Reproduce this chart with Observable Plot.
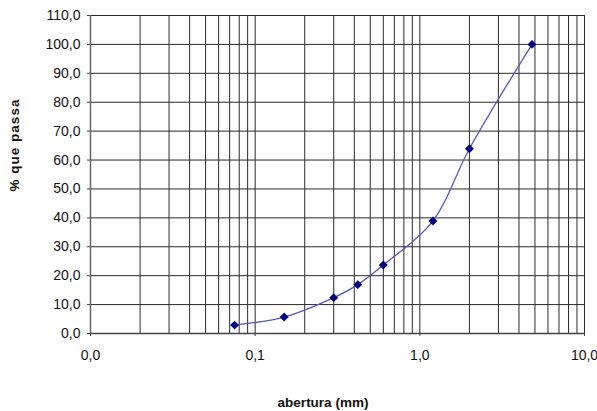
<!DOCTYPE html>
<html><head><meta charset="utf-8">
<script src="https://cdn.jsdelivr.net/npm/d3@7"></script>
<script src="https://cdn.jsdelivr.net/npm/@observablehq/plot@0.6"></script>
<style>body{margin:0;background:#fff}</style>
</head><body><div id="chart"></div>
<script>
const abertura = [0.075, 0.15, 0.3, 0.42, 0.6, 1.2, 2.0, 4.8];
const passa = [2.9, 5.7, 12.4, 16.9, 23.7, 38.9, 63.9, 100.0];
const xMajor = [0.01, 0.1, 1, 10];
const xGrid = [0.02,0.03,0.04,0.05,0.06,0.07,0.08,0.09,0.1,
               0.2,0.3,0.4,0.5,0.6,0.7,0.8,0.9,1,
               2,3,4,5,6,7,8,9,10];
const yTicks = [0,10,20,30,40,50,60,70,80,90,100,110];
const xTitle = "abertura (mm)";
const yTitle = "% que passa";

const data = abertura.map((a, i) => ({a, p: passa[i]}));
const fmt = d => d.toFixed(1).replace(".", ",");

const svg = Plot.plot({
  width: 597, height: 411,
  marginLeft: 90, marginRight: 13, marginTop: 15, marginBottom: 78,
  style: {fontFamily: "'Liberation Sans', Arial, sans-serif", fontSize: "14px", color: "#111", background: "#fff"},
  x: {type: "log", domain: [0.01, 10]},
  y: {domain: [0, 110]},
  marks: [
    Plot.ruleX(xGrid, {stroke: "#2a2a2a", strokeWidth: 1}),
    Plot.ruleY(yTicks, {stroke: "#2a2a2a", strokeWidth: 1}),
    Plot.axisX({ticks: xMajor, tickFormat: fmt, tickSize: 3, tickPadding: 14, label: null, stroke: "#444", fill: "#111", fontSize: 14}),
    Plot.axisY({ticks: yTicks, tickFormat: fmt, tickSize: 3, tickPadding: 7, label: null, stroke: "#444", fill: "#111", fontSize: 14}),
    Plot.ruleX([0.01], {stroke: "#666", strokeWidth: 1.5}),
    Plot.ruleY([0], {stroke: "#444", strokeWidth: 1.5}),
    Plot.line(data, {x: "a", y: "p", curve: "catmull-rom", stroke: "#5858b8", strokeWidth: 1.3}),
    Plot.dot(data, {x: "a", y: "p", symbol: "diamond2", r: 4, fill: "#000080", stroke: "none"})
  ]
});

const s = d3.select(svg);
s.append("text")
  .attr("x", 323).attr("y", 407)
  .attr("text-anchor", "middle")
  .attr("font-weight", "bold").attr("font-size", "13.5px")
  .attr("fill", "#111")
  .text(xTitle);
s.append("text")
  .attr("transform", "translate(18.5,145) rotate(-90)")
  .attr("text-anchor", "middle")
  .attr("font-weight", "bold").attr("font-size", "13.5px")
  .attr("letter-spacing", "1px")
  .attr("fill", "#111")
  .text(yTitle);

document.getElementById("chart").appendChild(svg);
</script>
</body></html>
